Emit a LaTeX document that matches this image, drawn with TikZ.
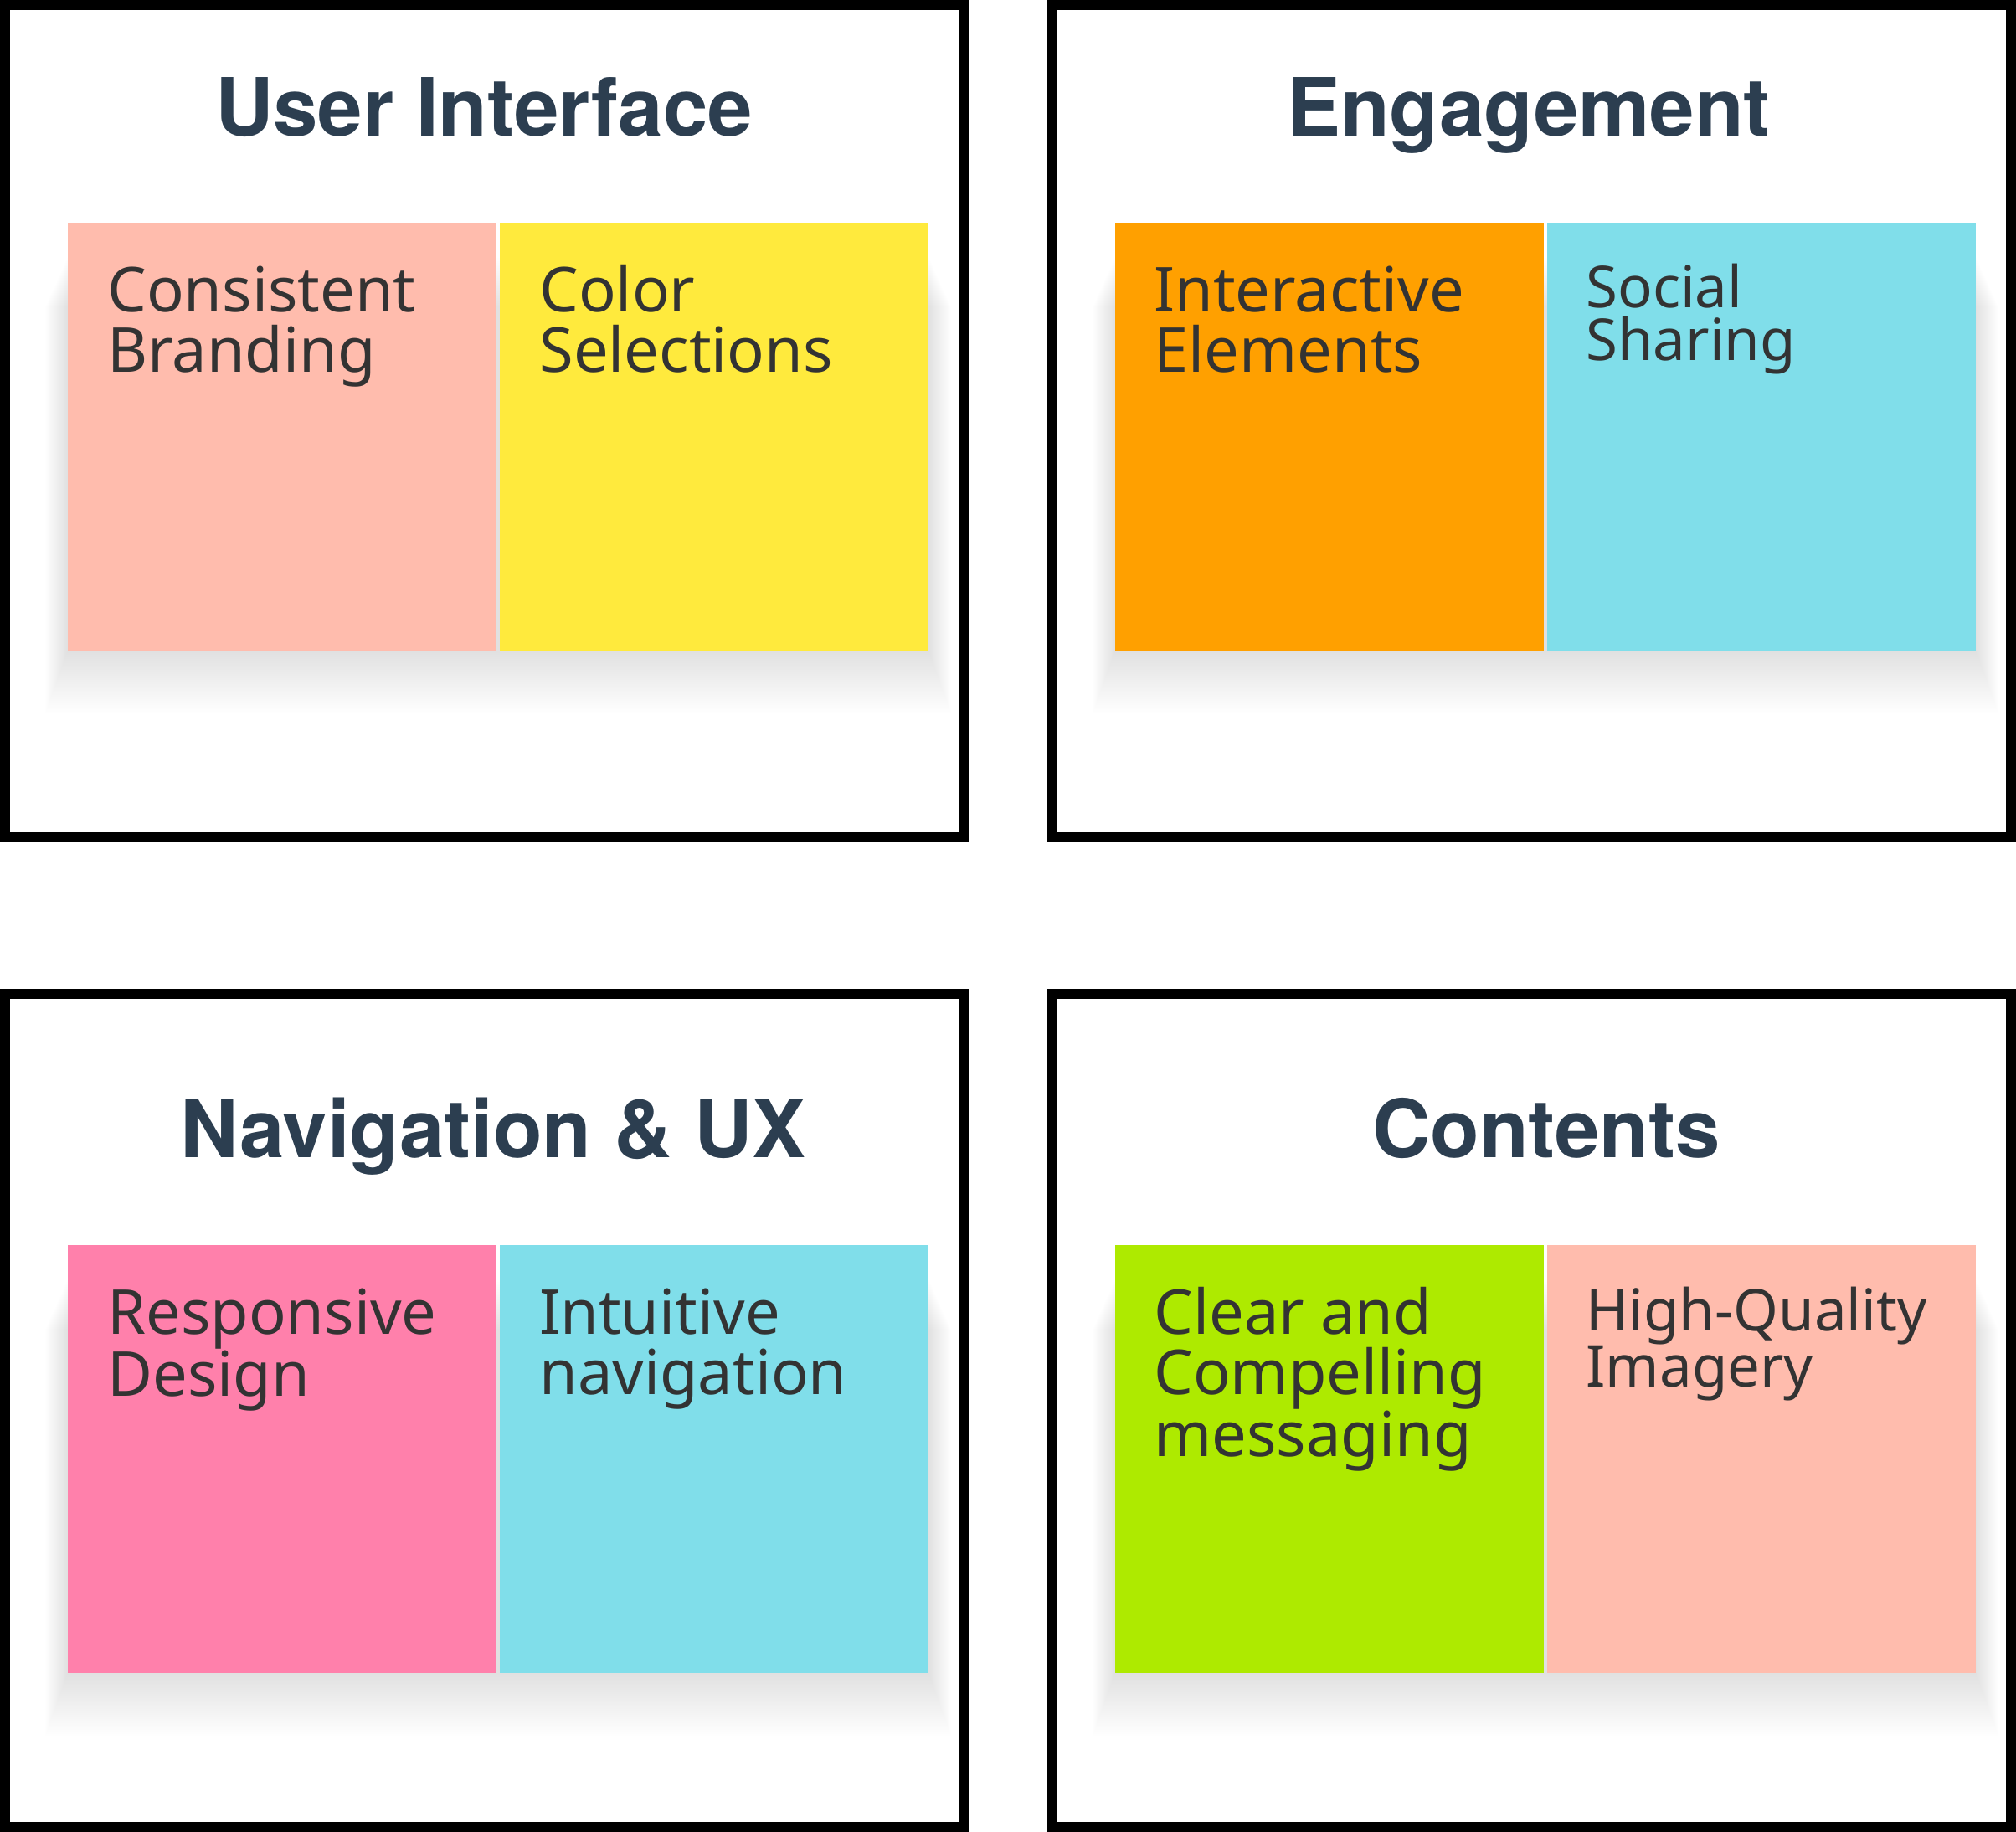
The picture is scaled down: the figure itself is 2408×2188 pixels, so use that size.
\documentclass[tikz,border=0pt]{standalone}
\usepackage{fontspec}
\setmainfont{Noto Sans}
\newfontfamily\titlefont{TeX Gyre Heros}
\definecolor{titlec}{HTML}{2C3E50}
\definecolor{textc}{HTML}{333333}
\definecolor{salmon}{HTML}{FFBCAD}
\definecolor{yell}{HTML}{FFEA3D}
\definecolor{orng}{HTML}{FFA000}
\definecolor{cyn}{HTML}{80DEEA}
\definecolor{pnk}{HTML}{FF80AB}
\definecolor{lime}{HTML}{AEEA00}
\pgfdeclarelayer{back}
\pgfdeclarelayer{bg}
\pgfsetlayers{back,bg,main}
\newcommand{\lines}[1]{\vtop{\halign{##\hfil\cr#1\crcr}}}
\tikzset{
  frame/.style={draw=black, line width=6pt},
  title/.style={anchor=base, inner sep=0, text=titlec, font=\titlefont\fontsize{48}{56}\selectfont\bfseries},
  sticky/.style={anchor=north west, minimum width=256pt, minimum height=255.5pt, inner sep=0, outer sep=0, draw=none},
  stxt/.style={anchor=base west, inner sep=0, text=textc, font=\fontsize{37}{36}\selectfont},
  stxts/.style={anchor=base west, inner sep=0, text=textc, font=\fontsize{34.5}{31.5}\selectfont},
}
\newcommand{\pairshadow}[2]{%
  \begin{pgfonlayer}{bg}
  \foreach \i in {1,...,30}{
    \fill[black, opacity=0.0055] ([shift={(-\i*0.9, 40+\i*2)}]#1.north west) rectangle ([shift={(\i*0.9, \i*2.5)}]#2.south east);
  }
  \end{pgfonlayer}}
\begin{document}
\begin{tikzpicture}[x=0.5pt, y=-0.5pt]
\useasboundingbox (0,0) rectangle (2408,2188);
\begin{pgfonlayer}{back}
\fill[white] (0,0) rectangle (2408,2188);
\end{pgfonlayer}
% frames
\draw[frame] (6,6) rectangle (1151,1000);
\draw[frame] (1257,6) rectangle (2402,1000);
\draw[frame] (6,1187) rectangle (1151,2182);
\draw[frame] (1257,1187) rectangle (2402,2182);
% titles
\node[title] (t1) at (578,163) {User Interface};
\node[title] (t2) at (1826,163) {Engagement};
\node[title] (t3) at (589,1382) {Navigation \& UX};
\node[title] (t4) at (1847,1382) {Contents};
% stickies top-left
\node[sticky, fill=salmon] (a1) at (81,266) {};
\node[sticky, fill=yell] (a2) at (597,266) {};
\pairshadow{a1}{a2}
\node[stxt] (a1t) at ([shift={(47,106)}]a1.north west) {\lines{Consistent\cr Branding}};
\node[stxt] (a2t) at ([shift={(47,106)}]a2.north west) {\lines{Color\cr Selections}};
% stickies top-right
\node[sticky, fill=orng] (b1) at (1332,266) {};
\node[sticky, fill=cyn] (b2) at (1848,266) {};
\pairshadow{b1}{b2}
\node[stxt] (b1t) at ([shift={(46,106)}]b1.north west) {\lines{Interactive\cr Elements}};
\node[stxts] (b2t) at ([shift={(46,102)}]b2.north west) {\lines{Social\cr Sharing}};
% stickies bottom-left
\node[sticky, fill=pnk] (c1) at (81,1487) {};
\node[sticky, fill=cyn] (c2) at (597,1487) {};
\pairshadow{c1}{c2}
\node[stxt] (c1t) at ([shift={(47,106)}]c1.north west) {\lines{Responsive\cr Design}};
\node[stxt] (c2t) at ([shift={(47,106)}]c2.north west) {\lines{Intuitive\cr navigation}};
% stickies bottom-right
\node[sticky, fill=lime] (d1) at (1332,1487) {};
\node[sticky, fill=salmon] (d2) at (1848,1487) {};
\pairshadow{d1}{d2}
\node[stxt] (d1t) at ([shift={(46,106)}]d1.north west) {\lines{Clear and\cr Compelling\cr messaging}};
\node[stxts] (d2t) at ([shift={(46,102)}]d2.north west) {\lines{High-Quality\cr Imagery}};
\end{tikzpicture}
\end{document}
